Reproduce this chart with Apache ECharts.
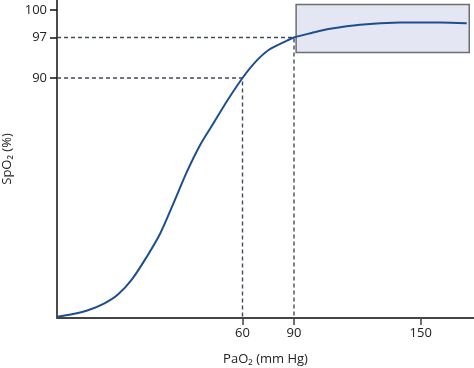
<!DOCTYPE html>
<html><head><meta charset="utf-8">
<script src="https://cdn.jsdelivr.net/npm/echarts@6/dist/echarts.min.js"></script>
<style>html,body{margin:0;padding:0;background:#fff}#c{width:474px;height:368px}</style>
</head><body><div id="c"></div>
<script>
// ---- data (real units) ----
const paO2 = [0, 4.85, 10.0, 15.2, 19.7, 24.3, 29.0, 33.3, 37.6, 42.0, 46.3, 50.6, 54.9, 60, 67.3, 75.0, 84.8, 90, 98.4, 107.1, 121.3, 140.2, 159.1, 171.8];
const spO2 = [0.5, 1.4, 2.9, 5.4, 8.8, 14.6, 22.9, 31.5, 42.8, 54.8, 64.9, 73.0, 81.2, 90, 92.7, 94.8, 96.3, 97, 97.5, 97.95, 98.4, 98.63, 98.65, 98.55];
const xTicks = [60, 90, 150];
const yTicks = [90, 97, 100];
const guidePaO2 = [60, 90];
const guideSpO2 = [90, 97];
const boxPaO2 = [91, 173];
const boxSpO2 = [94.4, 100.6];
const xName = 'PaO\u2082 (mm Hg)';
const yName = 'SpO\u2082 (%)';

// ---- schematic (non-linear) axis scales ----
const xScale = {real: [0, 60, 90, 150], disp: [0, 185.5, 237, 363.7]};
const yScale = {real: [0, 90, 97, 100], disp: [0, 240, 280.5, 308]};
function warp(s, v) {
  const r = s.real, d = s.disp;
  let i = 0;
  while (i < r.length - 2 && v > r[i + 1]) i++;
  return d[i] + (v - r[i]) * (d[i + 1] - d[i]) / (r[i + 1] - r[i]);
}
const wx = v => warp(xScale, v), wy = v => warp(yScale, v);
const xTickDisp = xTicks.map(wx), yTickDisp = yTicks.map(wy);
function lab(disp, ticksD, ticks) {
  for (let i = 0; i < ticksD.length; i++) if (Math.abs(ticksD[i] - disp) < 0.01) return String(ticks[i]);
  return '';
}

const curve = paO2.map((p, i) => [wx(p), wy(spO2[i])]);
const guides = guidePaO2.map((p, i) => ({
  type: 'line', silent: true, symbol: 'none', z: 1, animation: false,
  lineStyle: {color: '#3f4b58', width: 1.4, type: [4, 3]},
  data: [[0, wy(guideSpO2[i])], [wx(p), wy(guideSpO2[i])], [wx(p), 0]]
}));

const font = "'Open Sans', 'Noto Sans', sans-serif";
const chart = echarts.init(document.getElementById('c'), null, {renderer: 'canvas'});
chart.setOption({
  animation: false,
  grid: {left: 57, right: 0, top: 0, bottom: 50, containLabel: false, outerBoundsMode: 'none'},
  xAxis: {
    type: 'value', min: 0, max: 417,
    name: xName, nameLocation: 'middle', nameGap: 35,
    nameTextStyle: {fontFamily: font, fontSize: 13, color: '#222'},
    axisLine: {show: true, lineStyle: {color: '#444', width: 2}},
    axisTick: {show: true, length: 7, customValues: xTickDisp, lineStyle: {color: '#444', width: 1.5}},
    axisLabel: {customValues: xTickDisp, margin: 9, fontFamily: font, fontSize: 13, color: '#222',
      formatter: v => lab(v, xTickDisp, xTicks)},
    splitLine: {show: false}
  },
  yAxis: {
    type: 'value', min: 0, max: 318,
    name: yName, nameLocation: 'middle', nameGap: 38, nameRotate: 90,
    nameTextStyle: {fontFamily: font, fontSize: 13, color: '#222'},
    axisLine: {show: true, lineStyle: {color: '#111', width: 1.5}},
    axisTick: {show: true, length: 7, customValues: yTickDisp, lineStyle: {color: '#111', width: 1.5}},
    axisLabel: {customValues: yTickDisp, margin: 10, fontFamily: font, fontSize: 13, color: '#222',
      formatter: v => lab(v, yTickDisp, yTicks)},
    splitLine: {show: false}
  },
  series: guides.concat([
    {
      type: 'custom', z: 2, silent: true, clip: false,
      data: [[wx(boxPaO2[0]), wy(boxSpO2[0]), wx(boxPaO2[1]), wy(boxSpO2[1])]],
      encode: {x: [0, 2], y: [1, 3]},
      renderItem: (params, api) => {
        const a = api.coord([api.value(0), api.value(3)]);
        const b = api.coord([api.value(2), api.value(1)]);
        return {type: 'rect', shape: {x: a[0], y: a[1], width: b[0] - a[0], height: b[1] - a[1]},
          style: {fill: '#e4e6f3', stroke: '#6e6e6e', lineWidth: 1.5}};
      }
    },
    {
      type: 'line', z: 3, smooth: 0.3, symbol: 'none', silent: true,
      lineStyle: {color: '#1d4f8f', width: 2},
      data: curve
    }
  ])
});
</script>
</body></html>
